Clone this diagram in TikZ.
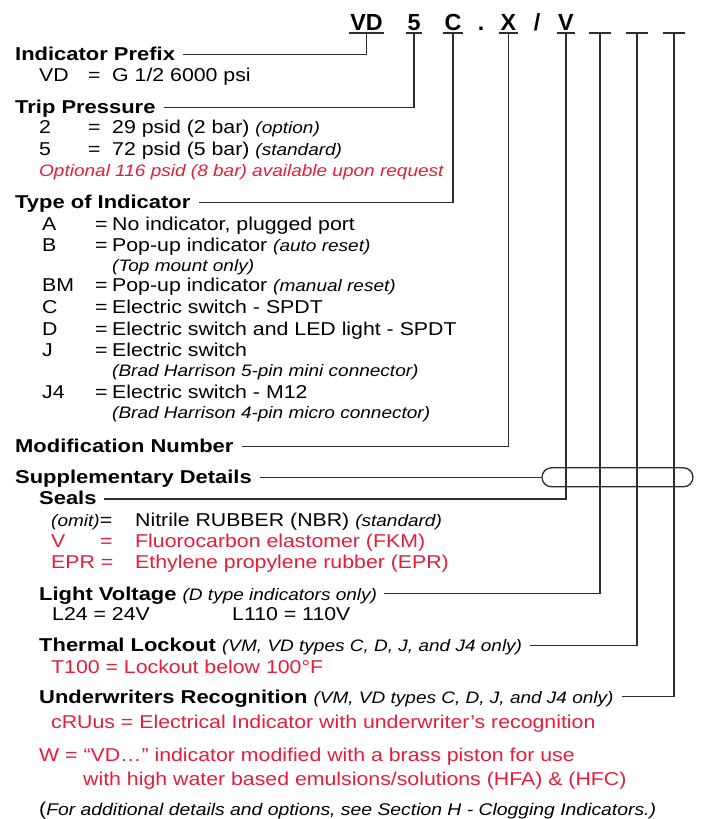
\documentclass[tikz,border=0pt]{standalone}
\usepackage{fontspec}
\usetikzlibrary{positioning}
\newfontfamily\txtf{Liberation Sans}[FakeStretch=1.145]
\newfontfamily\hdf{Liberation Sans}[FakeStretch=1.18]
\newfontfamily\codef{Liberation Sans}
\definecolor{pred}{RGB}{228,30,58}
\definecolor{lngray}{RGB}{45,45,45}
\newcommand\rg{\txtf\fontsize{18.6}{22}\selectfont}
\newcommand\hd{\hdf\bfseries\fontsize{18.6}{22}\selectfont}
\newcommand\nt[1]{{\txtf\mdseries\itshape\fontsize{16.6}{20}\selectfont #1}}
\newcommand\kv[4]{\rlap{#1}\hspace{#2}\rlap{=}\hspace{#3}#4}
\tikzset{
  hdr/.style   = {anchor=base west, inner sep=0pt, font=\hd},
  txt/.style   = {anchor=base west, inner sep=0pt, font=\rg},
  alert/.style = {text=pred},
  code/.style  = {anchor=base, inner xsep=1.2pt, inner ysep=0pt, text depth=2.7pt,
                  font=\codef\bfseries\fontsize{23.3}{28}\selectfont},
  blank/.style = {code, minimum width=22pt, text height=0pt},
  ln/.style    = {draw=lngray, line width=1.3pt},
  capsule/.style = {draw=lngray, line width=1.3pt, rounded corners=9.5pt,
                  minimum width=151pt, minimum height=19pt, inner sep=0pt},
}
\begin{document}
\begin{tikzpicture}[x=1pt, y=-1pt]
  \useasboundingbox (0,0) rectangle (709,819);
  % ordering code
  \node[code] (vd) at (366.5,30) {VD};
  \node[code] (c5) at (414,30) {5};
  \node[code] (cC) at (453,30) {C};
  \node[code] (dot) at (481,30) {.};
  \node[code] (cX) at (508.5,30) {X};
  \node[code] (slash) at (537,30) {/};
  \node[code] (cV) at (566,30) {V};
  \node[blank] (b1) at (600,30) {};
  \node[blank] (b2) at (637,30) {};
  \node[blank] (b3) at (674,30) {};
  \foreach \n in {vd,c5,cC,cX,cV,b1,b2,b3}
    \draw[ln] (\n.south west) -- (\n.south east);
  % Indicator Prefix
  \node[hdr] (pref) at (15,60.7) {Indicator Prefix};
  \node[txt] (vdrow) at (39,81.7) {\kv{VD}{49pt}{24pt}{G 1/2 6000 psi}};
  % Trip Pressure
  \node[hdr] (trip) at (15,113.3) {Trip Pressure};
  \node[txt] (tp2) at (39,133.3) {\kv{2}{49pt}{24pt}{29 psid (2 bar) \nt{(option)}}};
  \node[txt] (tp5) at (39,155) {\kv{5}{49pt}{24pt}{72 psid (5 bar) \nt{(standard)}}};
  \node[txt, alert] (tp8) at (39,176.7) {\nt{Optional 116 psid (8 bar) available upon request}};
  % Type of Indicator
  \node[hdr] (type) at (15,208.3) {Type of Indicator};
  \node[txt] (ta) at (42,230) {\kv{A}{53pt}{17pt}{No indicator, plugged port}};
  \node[txt] (tb) at (42,251.7) {\kv{B}{53pt}{17pt}{Pop-up indicator \nt{(auto reset)}}};
  \node[txt] (tbn) at (112,271.7) {\nt{(Top mount only)}};
  \node[txt] (tbm) at (42,291.7) {\kv{BM}{53pt}{17pt}{Pop-up indicator \nt{(manual reset)}}};
  \node[txt] (tc) at (42,313.3) {\kv{C}{53pt}{17pt}{Electric switch - SPDT}};
  \node[txt] (td) at (42,335) {\kv{D}{53pt}{17pt}{Electric switch and LED light - SPDT}};
  \node[txt] (tj) at (42,356.7) {\kv{J}{53pt}{17pt}{Electric switch}};
  \node[txt] (tjn) at (112,376.7) {\nt{(Brad Harrison 5-pin mini connector)}};
  \node[txt] (tj4) at (42,398.3) {\kv{J4}{53pt}{17pt}{Electric switch - M12}};
  \node[txt] (tj4n) at (112,418.3) {\nt{(Brad Harrison 4-pin micro connector)}};
  % Modification / Supplementary
  \node[hdr] (mod) at (15,452.7) {Modification Number};
  \node[hdr] (supp) at (15,483.3) {Supplementary Details};
  \node[capsule] (cap) at (617.5,477.3) {};
  % Seals
  \node[hdr] (seals) at (39,504) {Seals};
  \node[txt] (s1) at (51,526.7) {\rlap{\nt{(omit)}=}\hspace{84pt}Nitrile RUBBER (NBR) \nt{(standard)}};
  \node[txt, alert] (s2) at (51,547.3) {\kv{V}{49pt}{35pt}{Fluorocarbon elastomer (FKM)}};
  \node[txt, alert] (s3) at (51,568.3) {\rlap{EPR =}\hspace{84pt}Ethylene propylene rubber (EPR)};
  % Light Voltage
  \node[hdr] (light) at (39,600) {Light Voltage \nt{(D type indicators only)}};
  \node[txt] (l24) at (52,620) {L24 = 24V};
  \node[txt] (l110) at (232,620) {L110 = 110V};
  % Thermal Lockout
  \node[hdr] (therm) at (39,651.7) {Thermal Lockout \nt{(VM, VD types C, D, J, and J4 only)}};
  \node[txt, alert] (t100) at (51,673.3) {T100 = Lockout below 100°F};
  % Underwriters Recognition
  \node[hdr] (under) at (39,703.3) {Underwriters Recognition \nt{(VM, VD types C, D, J, and J4 only)}};
  \node[txt, alert] (cru) at (51,728.3) {cRUus = Electrical Indicator with underwriter’s recognition};
  \node[txt, alert] (w1) at (39,761.7) {W = “VD…” indicator modified with a brass piston for use};
  \node[txt, alert] (w2) at (83,785) {with high water based emulsions/solutions (HFA) \& (HFC)};
  \node[txt] (foot) at (39,815) {({\txtf\itshape\fontsize{16.9}{20}\selectfont For additional details and options, see Section H - Clogging Indicators.)}};
  % leader lines
  \draw[ln] (vd.south) |- ([xshift=8pt,yshift=6pt]pref.base east);
  \draw[ln] (c5.south) |- ([xshift=8pt,yshift=6pt]trip.base east);
  \draw[ln] (cC.south) |- ([xshift=8pt,yshift=6pt]type.base east);
  \draw[ln] (cX.south) |- ([xshift=8pt,yshift=6pt]mod.base east);
  \draw[ln] ([xshift=8pt,yshift=6pt]supp.base east) -- (cap.west);
  \draw[ln] (cV.south) |- ([xshift=7pt,yshift=5pt]seals.base east);
  \draw[ln] (b1.south) |- ([xshift=7pt,yshift=6.5pt]light.base east);
  \draw[ln] (b2.south) |- ([xshift=8pt,yshift=6pt]therm.base east);
  \draw[ln] (b3.south) |- ([xshift=8pt,yshift=7pt]under.base east);
\end{tikzpicture}
\end{document}
